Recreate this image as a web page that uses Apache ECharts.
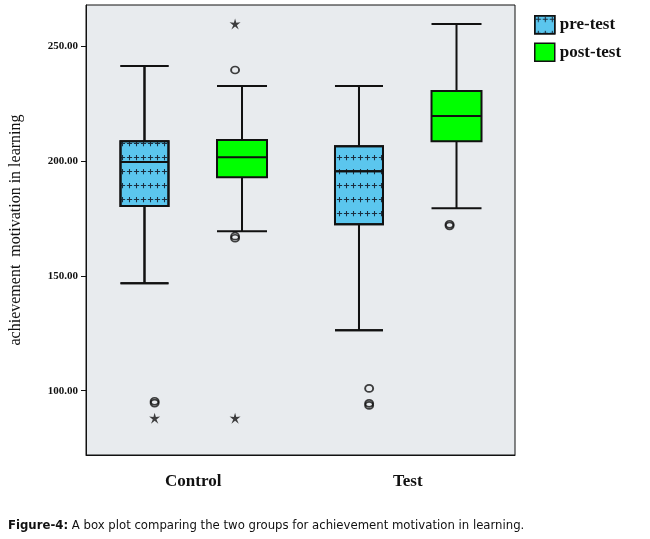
<!DOCTYPE html>
<html><head><meta charset="utf-8">
<script src="https://cdn.jsdelivr.net/npm/echarts@6/dist/echarts.min.js"></script>
<style>body{margin:0;background:#fff}#c{width:650px;height:539px}</style>
</head><body><div id="c"></div>
<script>
var groups = ['Control', 'Test'];
var yTicks = [100, 150, 200, 250];
// [low whisker, Q1, median, Q3, high whisker]
var preBoxes = [[146.8, 180.4, 199.6, 208.7, 241.4], [126.3, 172.5, 195.6, 206.5, 232.7]];
var postBoxes = [[169.5, 193.0, 201.7, 209.2, 232.7], [179.5, 208.7, 219.6, 230.5, 259.7]];
// outliers: [group index, value]
var preCircles = [[0, 95.4], [0, 94.6], [1, 101.0], [1, 94.5], [1, 93.6]];
var preStars = [[0, 88.0]];
var postCircles = [[0, 239.7], [0, 167.3], [0, 166.4], [1, 172.5], [1, 171.8]];
var postStars = [[0, 259.7], [0, 88.0]];

var preOff = -0.18, postOff = 0.195;
function shift(arr, off){ return arr.map(function(p){ return [p[0] + off, p[1]]; }); }
var star = 'path://M0,-10L2,-3L9,-4L3,1L6,8L0,3L-6,8L-3,1L-9,-4L-2,-3Z';
var serif = 'Liberation Serif';
var cap = 'DejaVu Sans Condensed, Liberation Sans Narrow, sans-serif';
var preDecal = {symbol: 'path://M4,0H6V4H10V6H6V10H4V6H0V4H4Z', symbolSize: 0.75, color: '#1b2f40',
  dashArrayX: [[7, 0]], dashArrayY: 7, rotation: 0};

var chart = echarts.init(document.getElementById('c'));
chart.setOption({
  animation: false,
  grid: {left: 84, top: 5, right: 135, bottom: 84, show: true, backgroundColor: '#e8ebee', borderColor: '#111', borderWidth: 1},
  title: {
    text: '{b|Figure-4:} A box plot comparing the two groups for achievement motivation in learning.',
    left: 3, top: 514,
    textStyle: {fontFamily: cap, fontSize: 13, fontWeight: 'normal', color: '#111',
      rich: {b: {fontFamily: cap, fontSize: 13, fontWeight: 'bold', color: '#111'}}}
  },
  legend: {
    orient: 'vertical', left: 529, top: 10, itemWidth: 20, itemHeight: 18, itemGap: 8, icon: 'rect',
    textStyle: {fontFamily: serif, fontSize: 17, fontWeight: 'bold', color: '#111'},
    data: [
      {name: 'pre-test', itemStyle: {color: '#5bc6ee', borderColor: '#111', borderWidth: 1.5, decal: preDecal}},
      {name: 'post-test', itemStyle: {color: '#00ff00', borderColor: '#111', borderWidth: 1.5}}
    ]
  },
  xAxis: [{
    type: 'category', data: groups, boundaryGap: true,
    axisLine: {lineStyle: {color: '#111'}}, axisTick: {show: false},
    axisLabel: {fontFamily: serif, fontSize: 17, fontWeight: 'bold', color: '#111', margin: 18}
  }, {
    type: 'value', min: -0.5, max: 1.5, show: false
  }],
  yAxis: {
    type: 'value', min: 72, max: 268,
    name: 'achievement  motivation in learning', nameLocation: 'middle', nameGap: 62,
    nameTextStyle: {fontFamily: serif, fontSize: 16, color: '#111'},
    axisLine: {show: true, onZero: false, lineStyle: {color: '#111'}},
    axisTick: {show: true, customValues: yTicks, length: 5},
    axisLabel: {customValues: yTicks, fontFamily: serif, fontSize: 11, fontWeight: 'bold', color: '#111',
      formatter: function(v){ return v.toFixed(2); }},
    splitLine: {show: false}
  },
  series: [{
    name: 'pre-test', type: 'boxplot', data: preBoxes, boxWidth: [48, 48],
    itemStyle: {color: '#5bc6ee', borderColor: '#111', borderWidth: 2, decal: preDecal}
  }, {
    name: 'post-test', type: 'boxplot', data: postBoxes, boxWidth: [50, 50],
    itemStyle: {color: '#00ff00', borderColor: '#111', borderWidth: 2}
  }, {
    type: 'scatter', xAxisIndex: 1, data: shift(preCircles, preOff), symbol: 'circle', symbolSize: [8, 7],
    itemStyle: {color: 'rgba(0,0,0,0)', borderColor: '#111', borderWidth: 1.8}
  }, {
    type: 'scatter', xAxisIndex: 1, data: shift(postCircles, postOff), symbol: 'circle', symbolSize: [8, 7],
    itemStyle: {color: 'rgba(0,0,0,0)', borderColor: '#111', borderWidth: 1.8}
  }, {
    type: 'scatter', xAxisIndex: 1, data: shift(preStars, preOff), symbol: star, symbolSize: 11,
    itemStyle: {color: '#111'}
  }, {
    type: 'scatter', xAxisIndex: 1, data: shift(postStars, postOff), symbol: star, symbolSize: 11,
    itemStyle: {color: '#111'}
  }]
});
</script></body></html>
